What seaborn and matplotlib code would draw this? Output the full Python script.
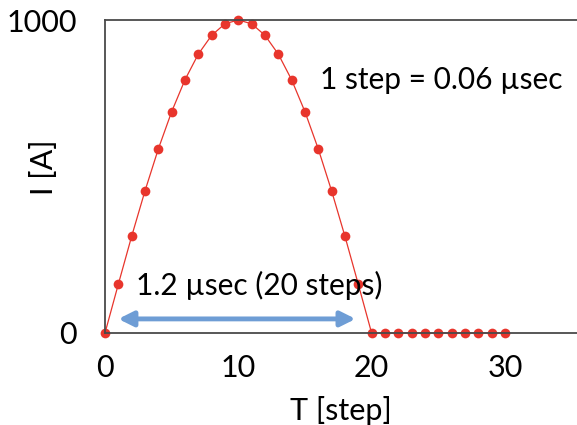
import matplotlib
matplotlib.use("Agg")
import matplotlib.pyplot as plt
import seaborn as sns
import pandas as pd

# Data
steps = list(range(0, 31))
current = [0, 156, 309, 454, 588, 707, 809, 891, 951, 988, 1000,
           988, 951, 891, 809, 707, 588, 454, 309, 156, 0,
           0, 0, 0, 0, 0, 0, 0, 0, 0, 0]
x_ticks = [0, 10, 20, 30]
y_ticks = [0, 1000]
x_label = "T [step]"
y_label = "I [A]"
note_step = "1 step = 0.06 \u00b5sec"
note_width = "1.2 \u00b5sec (20 steps)"
arrow_span = [1.0, 18.8]
arrow_level = 45

sns.set_theme(style="white")
plt.rcParams['font.family'] = ['Lato', 'DejaVu Sans']
plt.rcParams['text.color'] = 'black'
plt.rcParams['axes.labelcolor'] = 'black'

df = pd.DataFrame({"T": steps, "I": current})

fig = plt.figure(figsize=(5.77, 4.25), dpi=100)
ax = fig.add_axes([105/577, 92/425, 472/577, 313/425])

red = "#E8352C"
sns.lineplot(data=df, x="T", y="I", ax=ax, color=red, linewidth=0.9,
             marker="o", markersize=7, markeredgewidth=0, clip_on=False)

ax.set_xlim(0, 472/13.33)
ax.set_ylim(0, 1000)
ax.set_xticks(x_ticks)
ax.set_yticks(y_ticks)
ax.tick_params(axis="both", length=0, labelsize=22, colors="black")
ax.tick_params(axis="y", pad=20)
ax.tick_params(axis="x", pad=15)
ax.set_xlabel(x_label, fontsize=22, color="black")
ax.set_ylabel(y_label, fontsize=22, color="black")
ax.xaxis.set_label_coords(0.5, -0.2)
ax.yaxis.set_label_coords(-0.1, 0.53)

for side in ["left", "top", "bottom"]:
    ax.spines[side].set_visible(True)
    ax.spines[side].set_color("#4a4a4a")
    ax.spines[side].set_linewidth(1.3)
ax.spines["right"].set_visible(False)

ax.annotate("", xy=(arrow_span[1], arrow_level), xytext=(arrow_span[0], arrow_level),
            arrowprops=dict(arrowstyle="<|-|>", color="#6E9DD5", lw=3.5,
                            mutation_scale=22, shrinkA=0, shrinkB=0))
ax.text(16.1, 808, note_step, fontsize=21.5, va="center", ha="left", color="black")
ax.text(2.3, 153, note_width, fontsize=21.5, va="center", ha="left", color="black")

fig.savefig("out.png", dpi=100)
